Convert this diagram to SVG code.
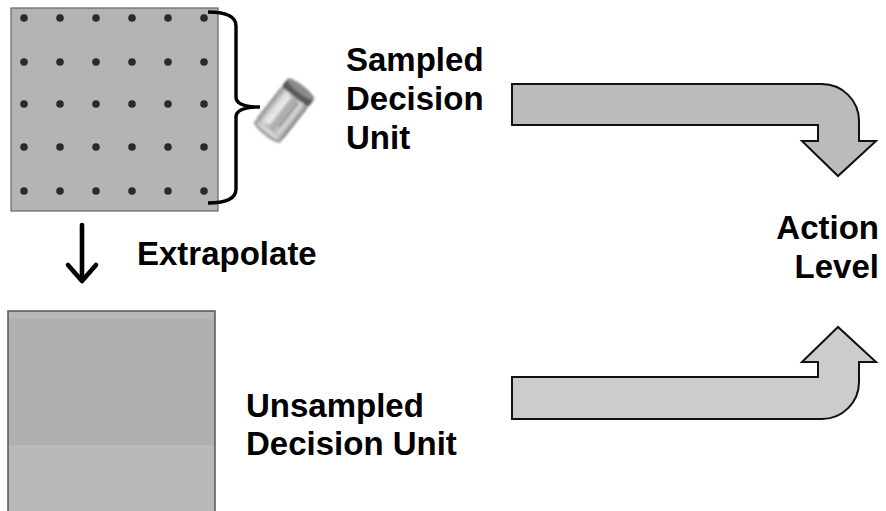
<svg xmlns="http://www.w3.org/2000/svg" width="886" height="511" viewBox="0 0 886 511">
  <style>
    .lbl { font-family: "Liberation Sans", Arial, sans-serif; font-weight: bold; font-size: 33px; fill: #000; }
    .dot { fill: #2a2a2a; }
    .bigarrow { stroke: #111; stroke-width: 2; stroke-linejoin: miter; }
  </style>
  <defs>
    <linearGradient id="jarBody" x1="0" y1="0" x2="1" y2="0">
      <stop offset="0" stop-color="#8a8a8a"/>
      <stop offset="0.25" stop-color="#e6e6e6"/>
      <stop offset="0.55" stop-color="#a8a8a8"/>
      <stop offset="0.8" stop-color="#d8d8d8"/>
      <stop offset="1" stop-color="#7a7a7a"/>
    </linearGradient>
    <filter id="soft" x="-20%" y="-20%" width="140%" height="140%">
      <feGaussianBlur stdDeviation="0.8"/>
    </filter>
  </defs>
  <rect width="886" height="511" fill="#fff"/>

  <!-- sampled unit: grid of sample points -->
  <g id="sampled-unit">
    <rect x="11" y="8" width="207" height="203" fill="#b4b4b4" stroke="#666" stroke-width="1.2"/>
    <g>
      <circle class="dot" cx="24" cy="18" r="3.8"/><circle class="dot" cx="60" cy="18" r="3.8"/><circle class="dot" cx="96" cy="18" r="3.8"/><circle class="dot" cx="132" cy="18" r="3.8"/><circle class="dot" cx="168" cy="18" r="3.8"/><circle class="dot" cx="204" cy="18" r="3.8"/>
      <circle class="dot" cx="24" cy="62" r="3.8"/><circle class="dot" cx="60" cy="62" r="3.8"/><circle class="dot" cx="96" cy="62" r="3.8"/><circle class="dot" cx="132" cy="62" r="3.8"/><circle class="dot" cx="168" cy="62" r="3.8"/><circle class="dot" cx="204" cy="62" r="3.8"/>
      <circle class="dot" cx="24" cy="104" r="3.8"/><circle class="dot" cx="60" cy="104" r="3.8"/><circle class="dot" cx="96" cy="104" r="3.8"/><circle class="dot" cx="132" cy="104" r="3.8"/><circle class="dot" cx="168" cy="104" r="3.8"/><circle class="dot" cx="204" cy="104" r="3.8"/>
      <circle class="dot" cx="24" cy="147" r="3.8"/><circle class="dot" cx="60" cy="147" r="3.8"/><circle class="dot" cx="96" cy="147" r="3.8"/><circle class="dot" cx="132" cy="147" r="3.8"/><circle class="dot" cx="168" cy="147" r="3.8"/><circle class="dot" cx="204" cy="147" r="3.8"/>
      <circle class="dot" cx="24" cy="191" r="3.8"/><circle class="dot" cx="60" cy="191" r="3.8"/><circle class="dot" cx="96" cy="191" r="3.8"/><circle class="dot" cx="132" cy="191" r="3.8"/><circle class="dot" cx="168" cy="191" r="3.8"/><circle class="dot" cx="204" cy="191" r="3.8"/>
    </g>
  </g>

  <!-- brace grouping the samples -->
  <g id="brace">
    <path d="M208,12 Q236,12 236,26 L236,97 Q236,107 260,107 Q236,107 236,117 L236,189 Q236,203 208,203" fill="none" stroke="#000" stroke-width="3.4"/>
  </g>

  <!-- sample jar -->
  <g id="jar" transform="translate(283,112) rotate(38)" filter="url(#soft)">
    <rect x="-17" y="-22" width="34" height="48" rx="6" fill="url(#jarBody)"/>
    <ellipse cx="0" cy="25" rx="17" ry="4.5" fill="#9a9a9a"/>
    <ellipse cx="0" cy="24" rx="14" ry="2.8" fill="#d4d4d4"/>
    <rect x="-17" y="-29" width="34" height="10" rx="3" fill="#5a5a5a"/>
    <ellipse cx="0" cy="-29" rx="17" ry="4" fill="#8c8c8c"/>
    <rect x="-6" y="-16" width="3" height="34" fill="#f2f2f2" opacity="0.8"/>
    <rect x="5" y="-16" width="2" height="30" fill="#6e6e6e" opacity="0.6"/>
  </g>

  <!-- unsampled unit -->
  <g id="unsampled-unit">
    <rect x="8" y="311" width="207" height="8" fill="#b7b7b7"/>
    <rect x="8" y="319" width="207" height="126" fill="#b0b0b0"/>
    <rect x="8" y="445" width="207" height="70" fill="#b9b9b9"/>
    <rect x="8" y="311" width="207" height="210" fill="none" stroke="#555" stroke-width="1.5"/>
  </g>

  <!-- labels -->
  <g id="label-sampled">
    <text class="lbl" x="346" y="71">Sampled</text>
    <text class="lbl" x="346" y="110">Decision</text>
    <text class="lbl" x="346" y="149">Unit</text>
  </g>
  <g id="label-extrapolate">
    <text class="lbl" x="137" y="265">Extrapolate</text>
  </g>
  <g id="label-unsampled">
    <text class="lbl" x="246" y="417">Unsampled</text>
    <text class="lbl" x="246" y="455">Decision Unit</text>
  </g>
  <g id="label-action">
    <text class="lbl" x="879" y="239" text-anchor="end">Action</text>
    <text class="lbl" x="879" y="278" text-anchor="end">Level</text>
  </g>

  <!-- connectors -->
  <g id="connectors">
    <g id="extrapolate-arrow" fill="none" stroke="#000" stroke-width="4.6" stroke-linecap="round" stroke-linejoin="round">
      <line x1="82" y1="225" x2="82" y2="280"/>
      <polyline points="68,265 82,281 96,265"/>
    </g>
    <path id="sampled-to-action" class="bigarrow" fill="#bbbbbb"
          d="M512,84 L822,84 A37,37 0 0 1 859,121 L859,141 L876,141 L838,176 L802,141 L818,141 L818,125 L512,125 Z"/>
    <path id="unsampled-to-action" class="bigarrow" fill="#cccccc"
          d="M512,377 L818,377 L818,362 L802,362 L838,327 L876,362 L859,362 L859,382 A37,37 0 0 1 822,419 L512,419 Z"/>
  </g>
</svg>
